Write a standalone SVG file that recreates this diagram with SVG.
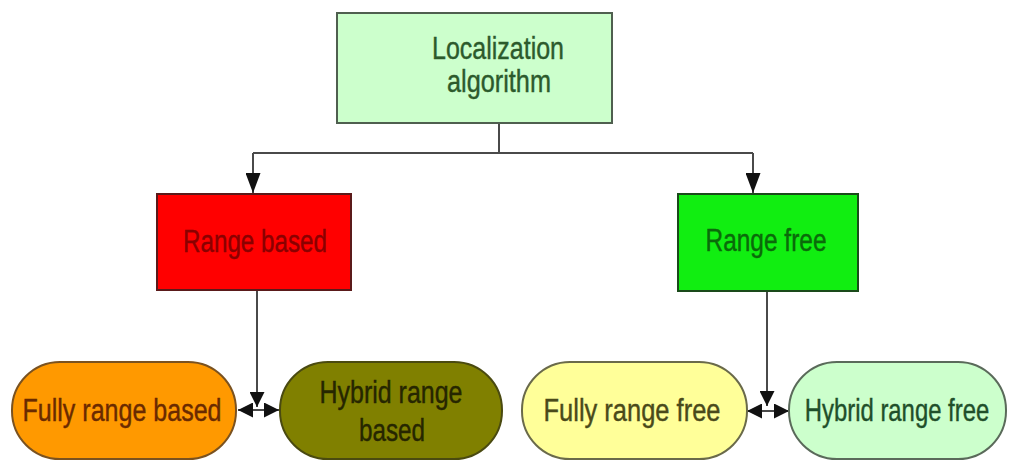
<svg xmlns="http://www.w3.org/2000/svg" width="1011" height="461" viewBox="0 0 1011 461">
  <defs>
    <marker id="head" viewBox="0 0 20 15" refX="20" refY="7.5" markerWidth="20" markerHeight="15" markerUnits="userSpaceOnUse" orient="auto">
      <path d="M0,0 L20,7.5 L0,15 z" fill="#111"/>
    </marker>
    <marker id="headSmall" viewBox="0 0 15 15" refX="15" refY="7.5" markerWidth="15" markerHeight="15" markerUnits="userSpaceOnUse" orient="auto-start-reverse">
      <path d="M0,0 L15,7.5 L0,15 z" fill="#111"/>
    </marker>
  </defs>
  <style>
    text { font-family: "Liberation Sans", Arial, sans-serif; font-size: 31px; text-anchor: middle; stroke-width: 0.4; }
    .box { stroke-width: 2; }
    .wire { fill: none; stroke: #4a4a4a; stroke-width: 2; }
  </style>
  <rect width="1011" height="461" fill="#ffffff"/>

  <g id="connectors">
    <path class="wire" d="M499,123 V153"/>
    <path class="wire" d="M253,153 H753"/>
    <path class="wire" d="M253,153 V193" marker-end="url(#head)"/>
    <path class="wire" d="M753,153 V193" marker-end="url(#head)"/>
    <path class="wire" d="M257,290 V407" marker-end="url(#headSmall)"/>
    <path class="wire" d="M767,291 V406" marker-end="url(#headSmall)"/>
    <path class="wire" d="M238,410 H279" marker-start="url(#headSmall)" marker-end="url(#headSmall)"/>
    <path class="wire" d="M747,411 H789" marker-start="url(#headSmall)" marker-end="url(#headSmall)"/>
  </g>

  <g id="localization">
    <rect class="box" x="337" y="13" width="275" height="110" fill="#ccffcc" stroke="#4f5f4f"/>
    <text x="498" y="59" fill="#2c5a2c" stroke="#2c5a2c" textLength="132" lengthAdjust="spacingAndGlyphs">Localization</text>
    <text x="499" y="92" fill="#2c5a2c" stroke="#2c5a2c" textLength="104" lengthAdjust="spacingAndGlyphs">algorithm</text>
  </g>

  <g id="range-based">
    <rect class="box" x="157" y="194" width="194" height="96" fill="#ff0000" stroke="#5a1a1a"/>
    <text x="255" y="252" fill="#8a0000" stroke="#8a0000" textLength="144" lengthAdjust="spacingAndGlyphs">Range based</text>
  </g>

  <g id="range-free">
    <rect class="box" x="678" y="194" width="180" height="97" fill="#11ee11" stroke="#1a4a1a"/>
    <text x="766" y="251" fill="#0a6a0a" stroke="#0a6a0a" textLength="121" lengthAdjust="spacingAndGlyphs">Range free</text>
  </g>

  <g id="fully-range-based">
    <rect class="box" x="12" y="362" width="224" height="97" rx="48" ry="48" fill="#ff9900" stroke="#7a5220"/>
    <text x="122" y="421" fill="#6a2a00" stroke="#6a2a00" textLength="199" lengthAdjust="spacingAndGlyphs">Fully range based</text>
  </g>

  <g id="hybrid-range-based">
    <rect class="box" x="280" y="362" width="222" height="97" rx="48" ry="48" fill="#808000" stroke="#4a4a10"/>
    <text x="391" y="403" fill="#262600" stroke="#262600" textLength="143" lengthAdjust="spacingAndGlyphs">Hybrid range</text>
    <text x="392" y="441" fill="#262600" stroke="#262600" textLength="66" lengthAdjust="spacingAndGlyphs">based</text>
  </g>

  <g id="fully-range-free">
    <rect class="box" x="522" y="362" width="225" height="97" rx="48" ry="48" fill="#ffff99" stroke="#6a6a4a"/>
    <text x="632" y="421" fill="#4a4a1a" stroke="#4a4a1a" textLength="177" lengthAdjust="spacingAndGlyphs">Fully range free</text>
  </g>

  <g id="hybrid-range-free">
    <rect class="box" x="789" y="362" width="217" height="97" rx="48" ry="48" fill="#ccffcc" stroke="#5a6a5a"/>
    <!-- condensed horizontally so the label sits inside the rounded ends -->
    <text transform="translate(897,421) scale(0.77,1)" x="0" y="0" fill="#1f4f2a" stroke="#1f4f2a">Hybrid range free</text>
  </g>
</svg>
